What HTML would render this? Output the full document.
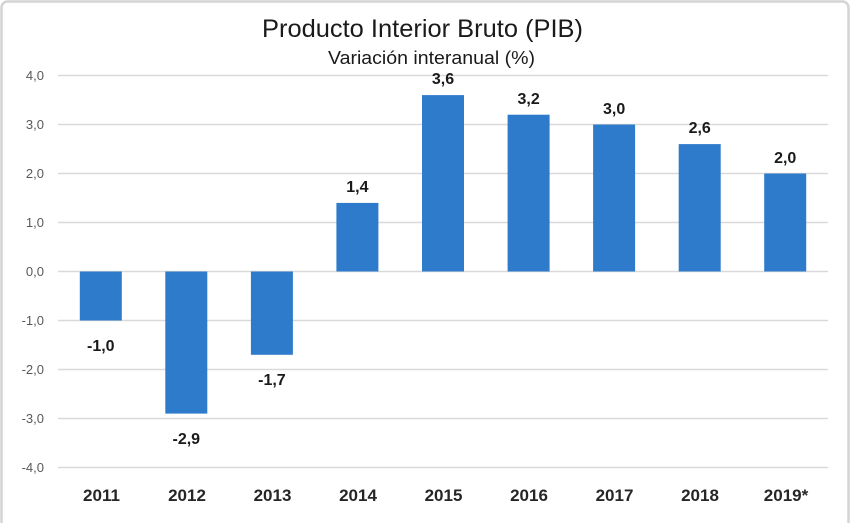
<!DOCTYPE html>
<html>
<head>
<meta charset="utf-8">
<style>
html,body{margin:0;padding:0;background:#fff;}
svg{display:block;}
text{font-family:"Liberation Sans",sans-serif;}
</style>
</head>
<body>
<svg width="854" height="523" viewBox="0 0 854 523" xmlns="http://www.w3.org/2000/svg">
<rect x="0" y="0" width="854" height="523" fill="#fff"/>
<rect x="1.5" y="1.5" width="847" height="540" rx="6" fill="none" stroke="#d4d4d4" stroke-width="2.5"/>

<text x="422.5" y="37" font-size="25" text-anchor="middle" textLength="321" lengthAdjust="spacingAndGlyphs" fill="#1a1a1a">Producto Interior Bruto (PIB)</text>
<text x="431.5" y="64" font-size="18" text-anchor="middle" textLength="207" lengthAdjust="spacingAndGlyphs" fill="#1a1a1a">Variación interanual (%)</text>

<g stroke="#d9d9d9" stroke-width="1.6">
<line x1="58" y1="75.5" x2="828" y2="75.5"/>
<line x1="58" y1="124.5" x2="828" y2="124.5"/>
<line x1="58" y1="173.5" x2="828" y2="173.5"/>
<line x1="58" y1="222.5" x2="828" y2="222.5"/>
<line x1="58" y1="271.5" x2="828" y2="271.5"/>
<line x1="58" y1="320.5" x2="828" y2="320.5"/>
<line x1="58" y1="369.5" x2="828" y2="369.5"/>
<line x1="58" y1="418.5" x2="828" y2="418.5"/>
<line x1="58" y1="467.5" x2="828" y2="467.5"/>
</g>

<g font-size="13" fill="#595959" text-anchor="end">
<text x="44" y="80">4,0</text>
<text x="44" y="129">3,0</text>
<text x="44" y="178">2,0</text>
<text x="44" y="227">1,0</text>
<text x="44" y="276">0,0</text>
<text x="44" y="325">-1,0</text>
<text x="44" y="374">-2,0</text>
<text x="44" y="423">-3,0</text>
<text x="44" y="472">-4,0</text>
</g>

<g fill="#2f7bcb">
<rect x="79.8" y="271.5" width="42" height="49"/>
<rect x="165.3" y="271.5" width="42" height="142.1"/>
<rect x="250.9" y="271.5" width="42" height="83.3"/>
<rect x="336.4" y="202.9" width="42" height="68.6"/>
<rect x="422" y="95.1" width="42" height="176.4"/>
<rect x="507.6" y="114.7" width="42" height="156.8"/>
<rect x="593.1" y="124.5" width="42" height="147"/>
<rect x="678.7" y="144.1" width="42" height="127.4"/>
<rect x="764.2" y="173.5" width="42" height="98"/>
</g>

<g font-size="16" font-weight="bold" fill="#1a1a1a" text-anchor="middle">
<text x="100.8" y="351">-1,0</text>
<text x="186.3" y="444">-2,9</text>
<text x="271.9" y="385">-1,7</text>
<text x="357.4" y="192">1,4</text>
<text x="443" y="84">3,6</text>
<text x="528.6" y="104">3,2</text>
<text x="614.1" y="114">3,0</text>
<text x="699.7" y="133">2,6</text>
<text x="785.2" y="163">2,0</text>
</g>

<g font-size="17" font-weight="bold" fill="#262626" text-anchor="middle">
<text x="101.5" y="501">2011</text>
<text x="187" y="501">2012</text>
<text x="272.5" y="501">2013</text>
<text x="358" y="501">2014</text>
<text x="443.5" y="501">2015</text>
<text x="529" y="501">2016</text>
<text x="614.5" y="501">2017</text>
<text x="700" y="501">2018</text>
<text x="786" y="501">2019*</text>
</g>
</svg>
</body>
</html>
